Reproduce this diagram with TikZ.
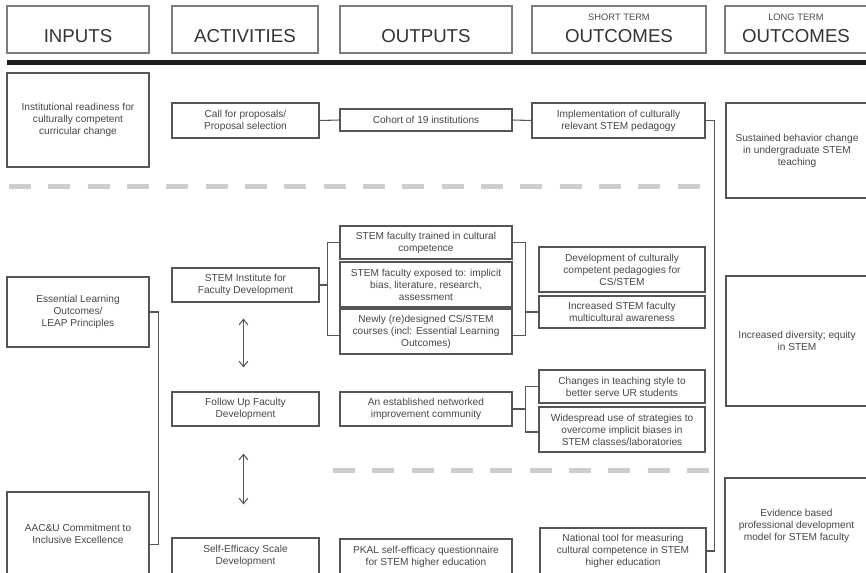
\documentclass[tikz,border=0pt]{standalone}
\usepackage{fontspec}
\setmainfont{Liberation Sans}
\usetikzlibrary{calc,arrows.meta}

\definecolor{boxc}{RGB}{85,85,85}
\definecolor{hdrc}{RGB}{125,125,125}
\definecolor{txtc}{RGB}{70,70,70}
\definecolor{dashc}{RGB}{205,205,205}
\definecolor{barc}{RGB}{30,30,30}

\tikzset{
  % a box spanning from (x1,y1) to (x2,y2), in the picture's pixel units
  span/.style n args={4}{minimum width={(#3-#1)*0.75pt},
    minimum height={(#4-#2)*0.75pt}, at={({(#1+#3)/2},{(#2+#4)/2})}},
  box/.style={draw=boxc, line width=0.85pt, inner sep=0pt, align=center,
    text=txtc, font=\fontsize{7.6}{9}\selectfont},
  hbox/.style={draw=hdrc, line width=0.9pt, inner sep=0pt},
  htitle/.style={text=black!80, font=\fontsize{14}{16}\selectfont, inner sep=0pt},
  hsub/.style={text=black!70, font=\fontsize{7}{8}\selectfont, inner sep=0pt},
  link/.style={draw=boxc, line width=0.8pt},
  dbl/.style={draw=boxc, line width=0.8pt,
    {Straight Barb[length=4pt,width=6.5pt]}-{Straight Barb[length=4pt,width=6.5pt]}},
  sep/.style={draw=dashc, line width=3.75pt, dash pattern=on 16.5pt off 13pt},
}

\begin{document}
\begin{tikzpicture}[x=0.75pt, y=-0.75pt]
\useasboundingbox (0,0) rectangle (866,572);
\clip (0,0) rectangle (866,572);

% column headers
\node[hbox, span={7}{6}{149}{53}] (hIn) {};
\node[hbox, span={172}{6}{318}{53}] (hAct) {};
\node[hbox, span={340}{6}{512}{53}] (hOut) {};
\node[hbox, span={532}{6}{706}{53}] (hShort) {};
\node[hbox, span={725}{6}{870}{53}] (hLong) {};
\node[htitle] (tIn) at (hIn.center |- 0,36) {INPUTS};
\node[htitle] (tAct) at (hAct.center |- 0,36) {ACTIVITIES};
\node[htitle] (tOut) at (hOut.center |- 0,36) {OUTPUTS};
\node[htitle] (tShort) at (hShort.center |- 0,36) {OUTCOMES};
\node[htitle] (tLong) at (796,36) {OUTCOMES};
\node[hsub] (sShort) at (hShort.center |- 0,17) {SHORT TERM};
\node[hsub] (sLong) at (796,17) {LONG TERM};

% heavy rule under the headers
\draw[barc, line width=3.75pt] (7,62.5) -- (866,62.5);

% section separators
\draw[sep] (9,186) -- (700,186);
\draw[sep] (333,470) -- (710,470);

% first row
\node[box, span={7}{73}{149}{167}] (ready) {Institutional readiness for\\culturally competent\\curricular change};
\node[box, span={172}{103}{319}{138}] (call) {Call for proposals/\\Proposal selection};
\node[box, span={340}{109}{512}{131}] (cohort) {Cohort of 19 institutions};
\node[box, span={532}{103}{705}{138}] (impl) {Implementation of culturally\\relevant STEM pedagogy};
\node[box, span={726}{103}{868}{198}] (sust) {Sustained behavior change\\in undergraduate STEM\\teaching};

% middle rows
\node[box, span={7}{277}{149}{347}] (ess) {Essential Learning\\Outcomes/\\LEAP Principles};
\node[box, span={172}{268}{319}{302}] (inst) {STEM Institute for\\Faculty Development};
\node[box, span={340}{226}{512}{259}] (trained) {STEM faculty trained in cultural\\competence};
\node[box, span={340}{262}{512}{307}] (exposed) {STEM faculty exposed to: implicit\\bias, literature, research,\\assessment};
\node[box, span={340}{309}{512}{354}] (newly) {Newly (re)designed CS/STEM\\courses (incl: Essential Learning\\Outcomes)};
\node[box, span={539}{247}{705}{292}] (dev) {Development of culturally\\competent pedagogies for\\CS/STEM};
\node[box, span={539}{296}{705}{328}] (incr) {Increased STEM faculty\\multicultural awareness};
\node[box, span={726}{276}{868}{406}] (divers) {Increased diversity; equity\\in STEM};

\node[box, span={172}{392}{319}{426}] (follow) {Follow Up Faculty\\Development};
\node[box, span={340}{392}{512}{426}] (est) {An established networked\\improvement community};
\node[box, span={539}{370}{705}{403}] (changes) {Changes in teaching style to\\better serve UR students};
\node[box, span={539}{407}{705}{452}] (wide) {Widespread use of strategies to\\overcome implicit biases in\\STEM classes/laboratories};

% bottom row
\node[box, span={7}{492}{149}{575}] (aacu) {AAC\&U Commitment to\\Inclusive Excellence};
\node[box, span={172}{538}{319}{574}] (self) {Self-Efficacy Scale\\Development};
\node[box, span={340}{539}{512}{574}] (pkal) {PKAL self-efficacy questionnaire\\for STEM higher education};
\node[box, span={540}{528}{706}{574}] (natl) {National tool for measuring\\cultural competence in STEM\\higher education};
\node[box, span={725}{478}{868}{574}] (evid) {Evidence based\\professional development\\model for STEM faculty};

% connectors
\draw[link] (call.east) -- (cohort.west);
\draw[link] (cohort.east) -- (impl.west);
\draw[link] (impl.east) -- ++(9,0) |- (natl.east);
\draw[link] (ess.east) -- ++(9,0) |- ($(aacu.north east)+(0,53)$);

\draw[link] (inst.east) -- ++(8,0) coordinate (ja);
\draw[link] (trained.west) -| (ja) |- ($(newly.west)+(0,4)$);
\coordinate (jb) at ($(trained.east)+(13,0)$);
\draw[link] (trained.east) -- (jb) |- ($(newly.east)+(0,4)$);
\draw[link] ($(dev.west)+(0,3.5)$) -- ($(dev.west)+(0,3.5)$ -| jb);
\draw[link] (incr.west) -- (incr.west -| jb);

\draw[link] (est.east) -- ++(13,0) coordinate (jc);
\draw[link] (changes.west) -| (jc) |- ($(wide.west)+(0,2.5)$);

\draw[dbl] ($(inst.south)+(-2,16)$) -- ($(follow.north)+(-2,-24)$);
\draw[dbl] ($(follow.south)+(-2,27)$) -- ($(self.north)+(-2,-33)$);
\end{tikzpicture}
\end{document}
